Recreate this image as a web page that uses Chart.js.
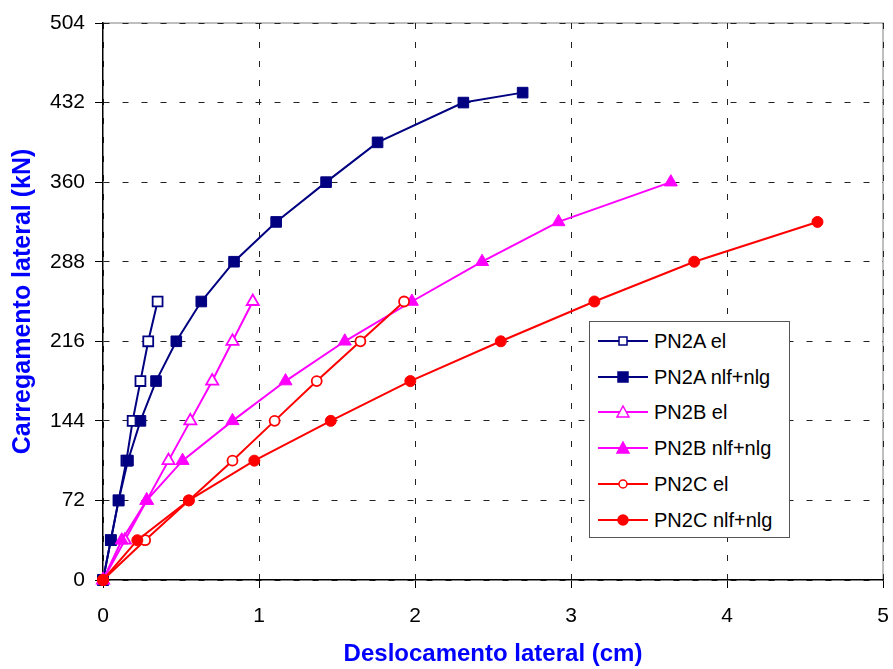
<!DOCTYPE html>
<html>
<head>
<meta charset="utf-8">
<script src="https://cdn.jsdelivr.net/npm/chart.js@4/dist/chart.umd.min.js"></script>
<style>
    body { margin: 0; background: #fff; }
    #wrap { position: relative; width: 893px; height: 669px; }
    #legend {
        position: absolute; left: 589px; top: 321px; width: 199px; height: 215px;
        border: 1px solid #555; background: #fff;
        font-family: "Liberation Sans", Arial, sans-serif; font-size: 20px; color: #000;
    }
    .row { position: absolute; left: 8px; height: 24px; display: flex; align-items: center; }
    .row svg { margin-right: 6px; }
</style>
</head>
<body>
<div id="wrap">
    <canvas id="chart" width="893" height="669"></canvas>
    <div id="legend"></div>
</div>
<script>
// Load steps (kN) shared by all series
let loads = [0, 36, 72, 108, 144, 180, 216, 252, 288, 324, 360, 396, 432, 441];

// Lateral displacement (cm) for each series, one value per load step
let pn2aEl = [0, 0.05, 0.10, 0.15, 0.19, 0.24, 0.29, 0.35];
let pn2aNl = [0, 0.05, 0.10, 0.16, 0.24, 0.34, 0.47, 0.63, 0.84, 1.11, 1.43, 1.76, 2.31, 2.69];
let pn2bEl = [0, 0.14, 0.28, 0.42, 0.56, 0.70, 0.83, 0.96];
let pn2bNl = [0, 0.12, 0.28, 0.51, 0.83, 1.17, 1.55, 1.98, 2.43, 2.92, 3.64];
let pn2cEl = [0, 0.27, 0.55, 0.83, 1.10, 1.37, 1.65, 1.93];
let pn2cNl = [0, 0.22, 0.55, 0.97, 1.46, 1.97, 2.55, 3.15, 3.79, 4.58];

let xTicks = [0, 1, 2, 3, 4, 5];
let yTicks = [0, 72, 144, 216, 288, 360, 432, 504];

const NAVY = "#000080", MAGENTA = "#FF00FF", RED = "#FF0000";
const FONT = "'Liberation Sans', Arial, sans-serif";

function pairs(xs) {
    return xs.map((x, i) => ({ x: x, y: loads[i] }));
}

let series = [
    { label: "PN2A el", data: pn2aEl, color: NAVY, shape: "rect", filled: false, r: 7 },
    { label: "PN2A nlf+nlg", data: pn2aNl, color: NAVY, shape: "rect", filled: true, r: 7.5 },
    { label: "PN2B el", data: pn2bEl, color: MAGENTA, shape: "triangle", filled: false, r: 7 },
    { label: "PN2B nlf+nlg", data: pn2bNl, color: MAGENTA, shape: "triangle", filled: true, r: 7.5 },
    { label: "PN2C el", data: pn2cEl, color: RED, shape: "circle", filled: false, r: 5 },
    { label: "PN2C nlf+nlg", data: pn2cNl, color: RED, shape: "circle", filled: true, r: 5.5 }
];

// light frame on top/right edges of the plot area
const frame = {
    id: "frame",
    beforeDraw(chart) {
        const a = chart.chartArea, c = chart.ctx;
        c.save();
        c.strokeStyle = "#aaa";
        c.lineWidth = 1.5;
        c.beginPath();
        c.moveTo(a.left, a.top);
        c.lineTo(a.right, a.top);
        c.lineTo(a.right, a.bottom);
        c.stroke();
        c.restore();
    }
};

new Chart(document.getElementById("chart"), {
    type: "scatter",
    data: {
        datasets: series.map((s, i) => ({
            label: s.label,
            data: pairs(s.data),
            showLine: true,
            clip: false,
            borderColor: s.color,
            borderWidth: 2,
            pointStyle: s.shape,
            pointRadius: s.r,
            pointHoverRadius: s.r,
            pointBorderWidth: s.filled ? 1 : 1.8,
            pointBorderColor: s.color,
            pointBackgroundColor: s.filled ? s.color : "#fff",
            order: series.length - i
        }))
    },
    options: {
        responsive: false,
        animation: false,
        layout: { padding: { top: 23, right: 10, left: 0, bottom: 0 } },
        plugins: { legend: { display: false }, tooltip: { enabled: false } },
        scales: {
            x: {
                type: "linear",
                min: 0, max: 5,
                afterFit(scale) {
                    scale.height = 89;
                    scale.paddingLeft = 0;
                    scale.paddingRight = 0;
                },
                afterBuildTicks(scale) { scale.ticks = xTicks.map(v => ({ value: v })); },
                ticks: { color: "#000", padding: 16, font: { family: FONT, size: 21 } },
                grid: { color: "#222", tickColor: "#000", tickLength: 8, lineWidth: 1 },
                border: { color: "#000", width: 1.5, dash: [6, 13] },
                title: {
                    display: true, text: "Deslocamento lateral (cm)", color: "#0000FF",
                    font: { family: FONT, size: 24, weight: "bold" }, padding: { top: 0, bottom: 0 }
                }
            },
            y: {
                type: "linear",
                min: 0, max: 504,
                afterFit(scale) {
                    scale.width = 103;
                    scale.paddingTop = 0;
                    scale.paddingBottom = 0;
                },
                afterBuildTicks(scale) { scale.ticks = yTicks.map(v => ({ value: v })); },
                ticks: { color: "#000", padding: 10, font: { family: FONT, size: 21 } },
                grid: { color: "#222", tickColor: "#000", tickLength: 8, lineWidth: 1 },
                border: { color: "#000", width: 1.5, dash: [6, 13] },
                title: {
                    display: true, text: "Carregamento lateral (kN)", color: "#0000FF",
                    font: { family: FONT, size: 25, weight: "bold" }, padding: { top: 8, bottom: 0 }
                }
            }
        }
    },
    plugins: [frame]
});

// Legend (HTML box inside the plot)
let legend = document.getElementById("legend");
let rowTops = [7, 43, 78, 114, 150, 186];
series.forEach((s, i) => {
    let fill = s.filled ? s.color : "#fff";
    let mark;
    if (s.shape === "rect") {
        let w = s.filled ? 10 : 8;
        mark = `<rect x="${25 - w / 2}" y="${12 - w / 2}" width="${w}" height="${w}" fill="${fill}" stroke="${s.color}" stroke-width="1.5"/>`;
    } else if (s.shape === "triangle") {
        mark = `<polygon points="25,6 31,17 19,17" fill="${fill}" stroke="${s.color}" stroke-width="1.5"/>`;
    } else {
        mark = `<circle cx="25" cy="12" r="${s.filled ? 5 : 4}" fill="${fill}" stroke="${s.color}" stroke-width="1.5"/>`;
    }
    let row = document.createElement("div");
    row.className = "row";
    row.style.top = rowTops[i] + "px";
    row.innerHTML = `<svg width="50" height="24"><line x1="0" y1="12" x2="50" y2="12" stroke="${s.color}" stroke-width="2"/>${mark}</svg><span>${s.label}</span>`;
    legend.appendChild(row);
});
</script>
</body>
</html>
